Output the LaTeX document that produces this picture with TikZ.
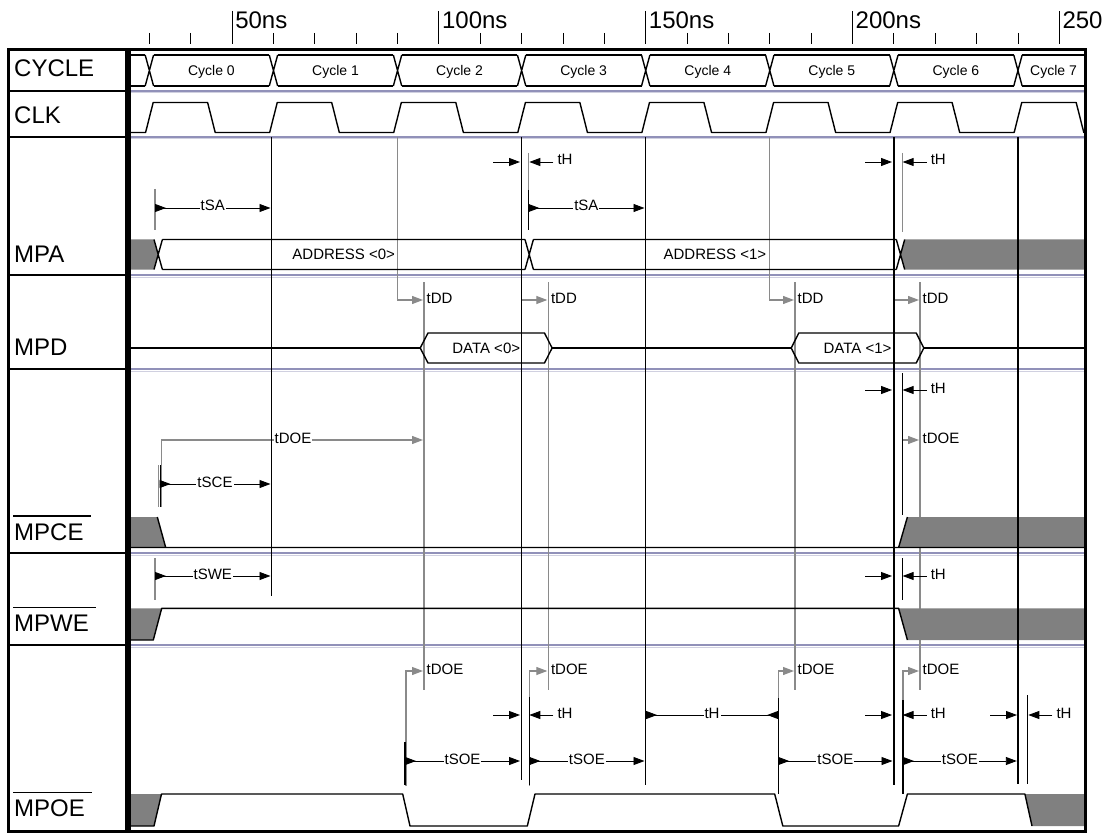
\documentclass[tikz,border=0pt]{standalone}
\usepackage{fontspec}
\setmainfont{Liberation Sans}
\usetikzlibrary{arrows.meta}
\definecolor{lgray}{RGB}{138,138,138}
\definecolor{ugray}{RGB}{128,128,128}
\definecolor{sepA}{RGB}{145,145,185}
\definecolor{sepB}{RGB}{208,208,224}
\tikzset{
  mytri/.tip={Triangle[length=11pt,width=8pt]},
  sig/.style={line width=1.4pt,line join=round},
  dimln/.style={line width=0.9pt},
  gln/.style={line width=1.2pt,draw=lgray},
  blk/.style={line width=1.2pt},
  slbl/.style={font=\fontsize{15}{18}\selectfont,inner sep=0pt},
  clbl/.style={font=\fontsize{14}{17}\selectfont,inner sep=0pt,anchor=base},
  biglbl/.style={font=\fontsize{24}{28}\selectfont,inner sep=0pt,anchor=base west},
}
% |>---label--->|
\newcommand\dimRR[5]{%
  \draw[dimln,-{mytri}] (#2,#4) -- (#3,#4);
  \draw[dimln,-{mytri}] (#2,#4) -- ({#2+11},#4);
  \node[slbl,fill=white,inner xsep=1pt,anchor=base] (#1) at ({(#2+#3)/2},{#4+3}) {#5};}
% ->| |<- label
\newcommand\dimHH[5]{%
  \draw[dimln,-{mytri}] ({#2-27},#4) -- (#2,#4);
  \draw[dimln,-{mytri}] ({#3+24},#4) -- (#3,#4);
  \node[slbl,anchor=base west] (#1) at ({#3+28},{#4+3}) {#5};}
% gray L arrow
\newcommand\gLL[6]{%
  \draw[gln,-{mytri}] (#2,#3) -- (#2,#4) -- (#5,#4);
  \node[slbl,anchor=base west] (#1) at ({#5+3.5},{#4+3}) {#6};}
\begin{document}
\begin{tikzpicture}[x=1pt,y=-1pt]
\useasboundingbox (0,0) rectangle (1110,834);
% ruler
\foreach \t in {30,40,...,240} \draw[line width=0.9pt] ({25.3+4.136*\t},33) -- ({25.3+4.136*\t},44);
\foreach \t/\l in {50/50ns,100/100ns,150/150ns,200/200ns,250/250} {
  \draw[line width=1pt] ({25.3+4.136*\t},11) -- ({25.3+4.136*\t},44);
  \node[font=\fontsize{24}{28}\selectfont,inner sep=0pt,anchor=base west] (ax\t) at ({25.3+4.136*\t+3},28.5) {\l};
}
% row separators
\foreach \y in {91,137,275,369,553,645} {
  \draw[sepA,line width=1.1pt] (130,\y) -- (1084,\y);
  \draw[sepB,line width=1pt] (130,{\y+2}) -- (1084,{\y+2});
  \draw[line width=1.3pt] (8,\y) -- (126,\y);
}
% signal names
\node[biglbl] (lCYCLE) at (14,76.5) {CYCLE};
\node[biglbl] (lCLK) at (14,123.5) {CLK};
\node[biglbl] (lMPA) at (14,262.5) {MPA};
\node[biglbl] (lMPD) at (14,355) {MPD};
\node[biglbl] (lMPCE) at (14,540) {MPCE};
\node[biglbl] (lMPWE) at (14,631.5) {MPWE};
\node[biglbl] (lMPOE) at (14,816.5) {MPOE};
\foreach \n in {lMPCE,lMPWE,lMPOE}
  \draw[line width=1.3pt] ([xshift=-1pt,yshift=7pt]\n.north west) -- ([xshift=7pt,yshift=7pt]\n.north east);

\begin{scope}
\clip (130,50) rectangle (1084.5,831);
% gray marker lines
\foreach \x in {424,548.3,795,920} \draw[gln] (\x,282) -- (\x,690);
\draw[gln] (528.3,153) -- (528.3,190);
\draw[gln] (902.3,153) -- (902.3,232);
\draw[gln] (155,189) -- (155,230);
\draw[gln] (155,558) -- (155,600);
\draw[gln] (158.3,465) -- (158.3,507);
% tDD
\gLL{tdda}{397.5}{137}{300}{423}{tDD}
\gLL{tddb}{521.6}{137}{300}{547.3}{tDD}
\gLL{tddc}{769.8}{137}{300}{794}{tDD}
\gLL{tddd}{893.9}{137}{300}{919}{tDD}
% tDOE
\draw[gln,-{mytri}] (161.7,507) -- (161.7,440) -- (423,440);
\node[slbl,fill=white,inner xsep=1pt,anchor=base] (tdoece1) at (293,443) {tDOE};
\draw[gln,-{mytri}] (903,440) -- (919,440);
\node[slbl,anchor=base west] (tdoece2) at (922.5,443) {tDOE};
\gLL{tdoeoe1}{406}{786}{671}{423}{tDOE}
\gLL{tdoeoe2}{529.3}{786}{671}{547.3}{tDOE}
\gLL{tdoeoe3}{778.2}{794}{671}{794}{tDOE}
\gLL{tdoeoe4}{903}{794}{671}{919}{tDOE}

% CYCLE bus
\foreach \t in {30,60,...,240}
  \draw[sig] ({25.3+4.136*\t-4.2},55) -- ({25.3+4.136*\t+4.2},86) ({25.3+4.136*\t-4.2},86) -- ({25.3+4.136*\t+4.2},55);
\foreach \i in {0,...,8} {
  \pgfmathsetmacro\xa{(\i==0) ? 130 : 25.3+124.08*\i+4.2}
  \pgfmathsetmacro\xb{(\i==8) ? 1090 : 25.3+124.08*(\i+1)-4.2}
  \draw[sig] (\xa,55) -- (\xb,55) (\xa,86) -- (\xb,86);
}
\foreach \i in {0,...,6} \node[clbl] (cyc\i) at ({25.3+4.136*(30*\i+45)},75.5) {Cycle \i};
\node[clbl] (cyc7) at (1053.5,75.5) {Cycle 7};
% CLK
\draw[sig] (130,132.5) \foreach \k in {1,...,8} { -- ({25.3+124.08*\k-3.8},132.5) -- ({25.3+124.08*\k+3.8},102.5) -- ({25.3+124.08*\k+62.04-3.8},102.5) -- ({25.3+124.08*\k+62.04+3.8},132.5) } -- (1090,132.5);
% MPA
\fill[ugray] (130,239.5) -- (154,239.5) -- (158.2,254.5) -- (154,269.5) -- (130,269.5) -- cycle;
\fill[ugray] (904.7,239.5) -- (1090,239.5) -- (1090,269.5) -- (904.7,269.5) -- (900.5,254.5) -- cycle;
\draw[sig] (154,239.5) -- (162.4,269.5) (154,269.5) -- (162.4,239.5)
  (162.4,239.5) -- (525,239.5) (162.4,269.5) -- (525,269.5)
  (525,239.5) -- (533.4,269.5) (525,269.5) -- (533.4,239.5)
  (533.4,239.5) -- (896.3,239.5) (533.4,269.5) -- (896.3,269.5)
  (896.3,239.5) -- (904.7,269.5) (896.3,269.5) -- (904.7,239.5);
\node[slbl,anchor=base] (addr0) at (343.7,259.8) {ADDRESS <0>};
\node[slbl,anchor=base] (addr1) at (714.9,259.8) {ADDRESS <1>};
% MPD
\draw[sig] (130,348) -- (420.2,348) (552.1,348) -- (791.2,348) (923.8,348) -- (1090,348);
\draw[sig] (420.2,348) -- (428,333) -- (544.5,333) -- (552.1,348) -- (544.5,363) -- (428,363) -- cycle;
\draw[sig] (791.2,348) -- (798.8,333) -- (916.2,333) -- (923.8,348) -- (916.2,363) -- (798.8,363) -- cycle;
\node[slbl,anchor=base] (data0) at (486.2,353.5) {DATA <0>};
\node[slbl,anchor=base] (data1) at (857.5,353.5) {DATA <1>};
% MPCE
\fill[ugray] (130,517) -- (157.3,517) -- (165.7,547.5) -- (130,547.5) -- cycle;
\fill[ugray] (907.4,517) -- (1090,517) -- (1090,547.5) -- (898.6,547.5) -- cycle;
\draw[sig] (130,547.5) -- (165.7,547.5) (157.3,517) -- (165.7,547.5) -- (898.6,547.5) -- (907.4,517) (898.6,547.5) -- (1090,547.5);
% MPWE
\fill[ugray] (130,608.3) -- (161.7,608.3) -- (153.3,640) -- (130,640) -- cycle;
\fill[ugray] (898.6,608.3) -- (1090,608.3) -- (1090,640) -- (907.4,640) -- cycle;
\draw[sig] (130,640) -- (153.3,640) -- (161.7,608.3) -- (898.6,608.3) -- (907.4,640);
% MPOE
\fill[ugray] (130,794) -- (161.5,794) -- (154,826) -- (130,826) -- cycle;
\fill[ugray] (1024.9,794) -- (1090,794) -- (1090,826) -- (1032,826) -- cycle;
\draw[sig] (130,826) -- (154,826) -- (161.5,794) -- (402.7,794) -- (410,826) -- (527.3,826) -- (535,794) -- (774.7,794) -- (782.8,826) -- (898.6,826) -- (907.4,794) -- (1024.9,794) -- (1032,826);

% timing dimensions
\dimHH{thA1}{520}{529.3}{162}{tH}
\dimHH{thA2}{892}{902.6}{162}{tH}
\dimRR{tsa1}{155}{270.5}{208}{tSA}
\dimRR{tsa2}{528.3}{644.5}{208}{tSA}
\dimHH{thCE}{892}{902.6}{390}{tH}
\dimRR{tsce}{159.5}{270.5}{484}{tSCE}
\dimRR{tswe}{155}{270.5}{576}{tSWE}
\dimHH{thWE}{892}{902.6}{576}{tH}
\dimHH{thOE1}{520}{529.3}{715}{tH}
\draw[dimln] (646,715) -- (778.2,715);
\draw[dimln,-{mytri}] (646,715) -- (657,715);
\draw[dimln,-{mytri}] (778.2,715) -- (767.2,715);
\node[slbl,fill=white,inner xsep=1pt,anchor=base] (thOE2) at (712,718) {tH};
\dimHH{thOE3}{892}{902.6}{715}{tH}
\dimHH{thOE4}{1017}{1028.3}{715}{tH}
\dimRR{tsoe1}{405}{520}{761}{tSOE}
\dimRR{tsoe2}{529.3}{644.5}{761}{tSOE}
\dimRR{tsoe3}{778.2}{892.5}{761}{tSOE}
\dimRR{tsoe4}{903}{1016.8}{761}{tSOE}

% black vertical reference lines
\draw[blk] (271.7,137) -- (271.7,596);
\draw[blk] (521.6,137) -- (521.6,780);
\draw[blk] (645.7,137) -- (645.7,785);
\draw[blk] (893.9,137) -- (893.9,785);
\draw[blk] (1017.9,137) -- (1017.9,784);
% black start markers
\draw[blk] (528.3,190) -- (528.3,230);
\draw[blk] (160.7,465) -- (160.7,507);
\draw[blk] (902.6,373) -- (902.6,515);
\draw[blk] (902.6,558) -- (902.6,600);
\draw[blk] (405,742) -- (405,785);
\draw[blk] (529.3,697) -- (529.3,785);
\draw[blk] (778.2,698) -- (778.2,794);
\draw[blk] (903,700) -- (903,794);
\draw[blk] (1027.7,695) -- (1027.7,784);
\end{scope}
% frames
\draw[line width=2.5pt] (8.3,49.5) rectangle (126.3,831.7);
\draw[line width=2.5pt] (129.5,49.5) rectangle (1085.3,831.7);
\end{tikzpicture}
\end{document}
